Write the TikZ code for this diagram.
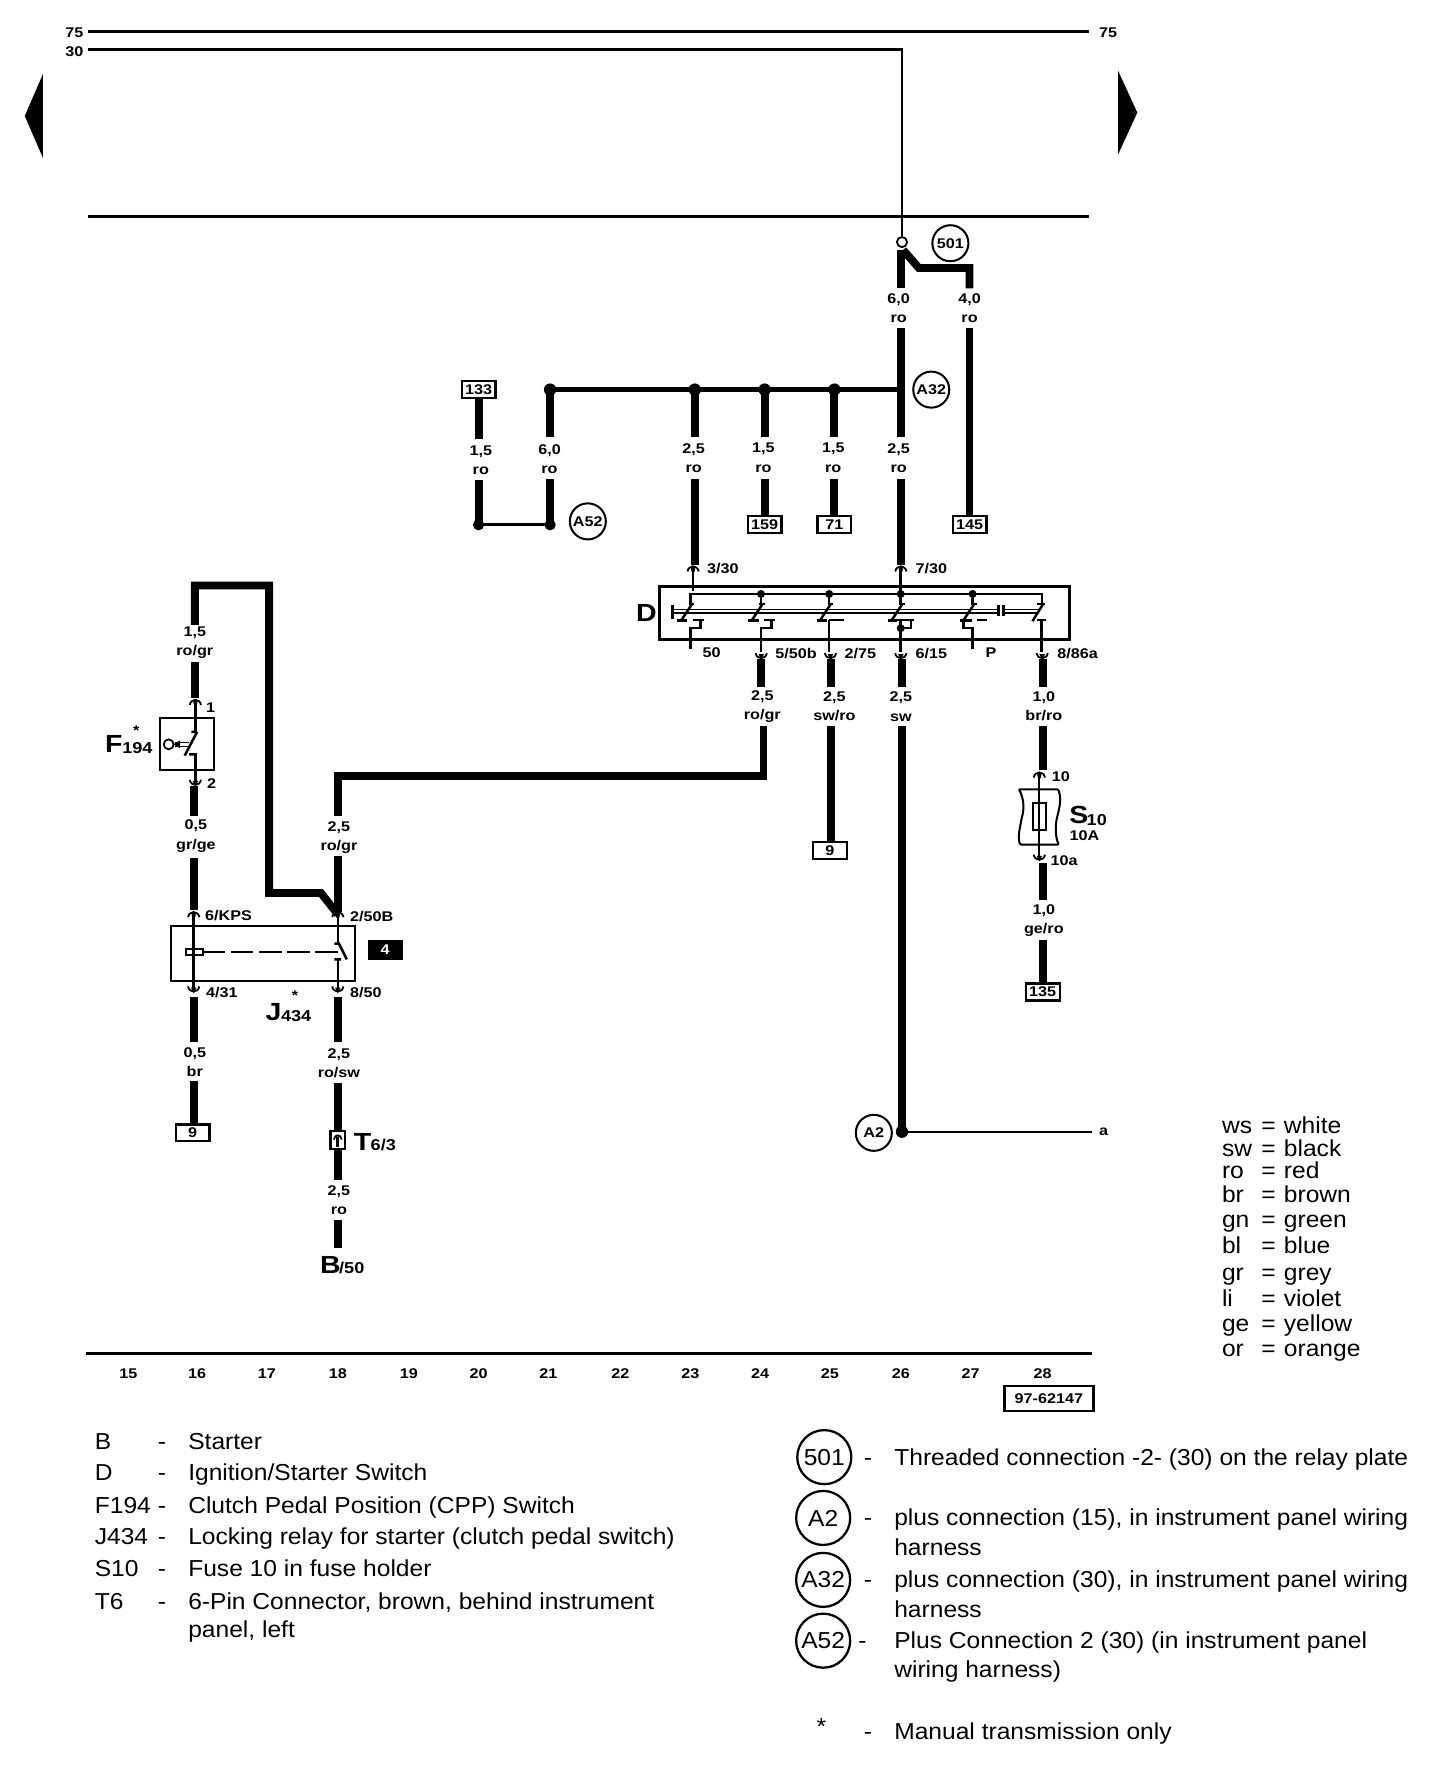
\documentclass[tikz,border=0pt]{standalone}
\usepackage{fontspec}
\setmainfont{Liberation Sans}
\newfontfamily\labfam{Liberation Sans}[FakeStretch=1.15]
\newfontfamily\legfam{Liberation Sans}[FakeStretch=1.065]
\newcommand{\C}[3]{\coordinate (#1) at (#2,#3);}
\newcommand{\wl}[5]{\node[lab] (#1) at (#2,#3) {#4\\#5};}
\tikzset{
 x=1pt,y=-1pt,
 heavy/.style={line width=7pt},
 midw/.style={line width=3pt},
 thinw/.style={line width=2.2pt},
 fine/.style={line width=1.6pt},
 lab/.style={inner sep=0pt,align=center,font=\labfam\bfseries\fontsize{12.5}{17}\selectfont},
 big/.style={inner sep=0pt,font=\labfam\bfseries\fontsize{22}{22}\selectfont},
 sub/.style={inner sep=0pt,font=\labfam\bfseries\fontsize{14}{14}\selectfont},
 tag/.style={draw,line width=2pt,inner sep=0pt,minimum height=15pt,minimum width=30pt,lab},
 ring/.style={draw,circle,line width=1.8pt,minimum size=32pt,inner sep=0pt,lab},
 bigring/.style={draw,circle,line width=2pt,minimum size=48pt,inner sep=0pt,font=\legfam\fontsize{20.5}{20}\selectfont},
 leg/.style={anchor=base west,inner sep=0pt,font=\legfam\fontsize{20.5}{26}\selectfont},
 jdot/.style={fill,circle,inner sep=0pt,minimum size=11pt},
 pintop/.pic={\draw[fine] (-5,2) .. controls (-4,-4) and (4,-4) .. (5,2); \fill (0,0) ellipse (1.8 and 3.4);},
 pinbot/.pic={\draw[fine] (-5,-2) .. controls (-4,4) and (4,4) .. (5,-2); \fill (-2.4,-1) -- (2.4,-1) -- (0,4) -- cycle;},
}
\begin{document}
\begin{tikzpicture}
\useasboundingbox[fill=white] (0,0) rectangle (1293,1568.3);

% top rails
\C{r75a}{78}{28}\C{r75b}{967}{28}\C{r30a}{78}{44}\C{r30b}{801}{44}\C{r0a}{78}{192}\C{r0b}{967}{192}
\draw[midw] (r75a) -- (r75b);
\draw[midw] (r0a) -- (r0b);
\draw[midw] (r30a) -- (r30b);
\node[lab] (t75l) at (66,29) {75};
\node[lab] (t30l) at (66,46) {30};
\node[lab] (t75r) at (984,29) {75};
\fill (38,66) -- (22,103) -- (38,140) -- cycle;
\fill (993,63) -- (1010,100) -- (993,137) -- cycle;

% 501
\node[draw,circle,fill=white,line width=1.6pt,inner sep=0pt,minimum size=9pt] (n501) at (801,215) {};
\draw[thinw] (r30b) ++(0,-1.5) -- (n501);
\node[ring] (c501) at (844,216) {501};
\C{a1}{800}{222}\C{a2}{800}{256}\C{a3}{802}{222}\C{a4}{816}{238}\C{a5}{861}{238}\C{a6}{861}{256}
\draw[heavy] (a1) -- (a2);
\draw[heavy,line join=miter] (a3) -- (a4) -- (a5) -- (a6);
\wl{l60}{798}{273.5}{6,0}{ro}
\wl{l40}{861}{273.5}{4,0}{ro}
\C{b1}{800}{291}\C{b2}{800}{388}\C{b3}{800}{425}\C{b4}{800}{502}
\draw[heavy] (b1) -- (b2);
\draw[heavy] (b3) -- (b4);
\wl{lb}{798}{406.5}{2,5}{ro}
\node[tag] (t145) at (861,466) {145};
\C{c1}{861}{291}
\draw[heavy] (c1) -- (t145.north);

% A32 bus
\node[ring] (cA32) at (827,346) {A32};
\C{bus0}{800}{346}
\node[jdot] (d1) at (488.5,346) {};
\node[jdot] (d2) at (617,346) {};
\node[jdot] (d3) at (679,346) {};
\node[jdot] (d4) at (741,346) {};
\draw[line width=4.5pt] (d1.center) -- (bus0);

\C{e1}{488.5}{388}\C{e2}{488.5}{425}
\draw[heavy] (d1.center) -- (e1);
\wl{l6}{488}{407.5}{6,0}{ro}
\node[jdot,minimum size=10pt] (d5) at (488.5,466) {};
\draw[heavy] (e2) -- (d5.center);
\node[jdot,minimum size=10pt] (d6) at (425,466) {};
\draw[line width=3pt] (d6.center) -- (d5.center);
\C{e3}{425}{426}\C{e4}{425}{390}
\draw[heavy] (d6.center) -- (e3);
\wl{l15}{427}{408.5}{1,5}{ro}
\node[tag] (t133) at (425,346) {133};
\draw[heavy] (e4) -- (t133.south);
\node[ring] (cA52) at (522,463) {A52};

\C{f1}{617}{388}\C{f2}{617}{425}\C{f3}{617}{502}
\draw[heavy] (d2.center) -- (f1);
\draw[heavy] (f2) -- (f3);
\wl{lf}{616}{406.5}{2,5}{ro}
\C{g1}{679}{388}\C{g2}{679}{425}
\draw[heavy] (d3.center) -- (g1);
\wl{lg}{678}{406.5}{1,5}{ro}
\node[tag] (t159) at (679,466) {159};
\draw[heavy] (g2) -- (t159.north);
\C{h1}{741}{388}\C{h2}{741}{425}
\draw[heavy] (d4.center) -- (h1);
\wl{lh}{740}{406.5}{1,5}{ro}
\node[tag] (t71) at (741,466) {71};
\draw[heavy] (h2) -- (t71.north);

% D switch
\node[draw,line width=2.6pt,minimum width=364pt,minimum height=47pt,inner sep=0pt] (boxD) at (767.5,544.5) {};
\node[big] (nD) at (574,544) {D};
\begin{scope}[shift={(549.6,478.7)},x=.2955pt,y=-.2955pt]
 \begin{scope}[line width=2.2pt]
 \draw (222,95) -- (222,155);
 \draw (847,95) -- (847,165);
 \draw (215,195) -- (215,165) -- (1272,165) -- (1272,195);
 \foreach \p in {427,632,847,1063} {
   \fill (\p,165) circle (12);
   \draw (\p,165) -- (\p,195);
 }
 \foreach \p in {215,427,632,847,1063} {
   \draw (\p-5,195) -- (\p+12,195);
   \draw (\p+5,195) -- (\p-28,245);
 }
 \draw (1258,195) -- (1280,195);
 \draw (1275,195) -- (1243,247);
 \end{scope}
 \begin{scope}[line width=1.4pt]
 \draw (160,212) -- (1140,212);
 \draw (160,223) -- (1140,223);
 \draw (1160,212) -- (1262,212);
 \draw (1160,223) -- (1255,223);
 \end{scope}
 \begin{scope}[line width=2.2pt]
 \draw[line width=2.8pt] (160,198) -- (160,240);
 \draw[line width=2.8pt] (1140,198) -- (1140,230);
 \draw[line width=2.8pt] (1157,198) -- (1157,230);
 \draw (175,245) -- (205,245) (222,243) -- (255,243);
 \draw (245,243) -- (245,268) -- (215,268) -- (215,330);
 \draw (388,245) -- (420,245) (435,243) -- (468,243);
 \draw (458,243) -- (458,268) -- (427,268) -- (427,340);
 \draw (595,245) -- (625,245) (632,243) -- (675,243) (632,243) -- (632,340);
 \draw (808,245) -- (835,245) (835,243) -- (888,243);
 \draw (847,243) -- (847,340) (878,243) -- (878,268) -- (847,268);
 \fill (847,268) circle (12);
 \draw (1025,245) -- (1060,245) (1075,243) -- (1105,243);
 \draw (1035,245) -- (1035,268) -- (1063,268) -- (1063,330);
 \draw (1258,243) -- (1285,243) (1270,243) -- (1270,340);
 \end{scope}
\end{scope}
\pic at (615.5,505.5) {pintop};
\pic at (800,505.5) {pintop};
\pic at (676,582) {pinbot};
\pic at (737.5,582) {pinbot};
\pic at (800,582) {pinbot};
\pic at (925.5,582) {pinbot};
\node[lab] (p330) at (642,505) {3/30};
\node[lab] (p730) at (827,505) {7/30};
\node[lab] (p50) at (632,580) {50};
\node[lab] (p550) at (707,580) {5/50b};
\node[lab] (p275) at (764,580) {2/75};
\node[lab] (p615) at (827,580) {6/15};
\node[lab] (pP) at (880,580) {P};
\node[lab] (p886) at (957,580) {8/86a};

% below D
\C{i1}{676}{585}\C{i2}{676}{610}\C{i3}{678}{645}\C{i4}{678}{689}\C{i5}{300}{689}\C{i6}{300}{725}
\draw[heavy] (i1) -- (i2);
\wl{li}{677}{627.5}{2,5}{ro/gr}
\draw[heavy,line join=miter] (i3) -- (i4) -- (i5) -- (i6);
\C{j1}{738}{585}\C{j2}{738}{610}\C{j3}{738}{645}
\draw[heavy] (j1) -- (j2);
\wl{lj}{741}{627.5}{2,5}{sw/ro}
\node[tag] (t9a) at (737,755) {9};
\draw[heavy] (j3) -- (t9a.north -| j3);
\C{k1}{801}{585}\C{k2}{801}{610}\C{k3}{801}{645}
\draw[heavy] (k1) -- (k2);
\wl{lk}{800}{627.5}{2,5}{sw}
\node[jdot] (dA2) at (801,1005) {};
\draw[heavy] (k3) -- (dA2.center);
\node[lab] (na) at (980,1005) {a};
\C{aend}{970}{1005}
\draw[line width=1.6pt] (dA2.center) -- (aend);
\node[ring] (cA2) at (776,1006) {A2};
\C{m1}{926}{585}\C{m2}{926}{610}\C{m3}{926}{645}\C{m4}{926}{684}
\draw[heavy] (m1) -- (m2);
\wl{lm}{927}{627.5}{1,0}{br/ro}
\draw[heavy] (m3) -- (m4);
% fuse
\begin{scope}[shift={(868.8,638.3)},x=.2955pt,y=-.2955pt]
 \draw[line width=1.8pt,rounded corners=1pt] (122,212) -- (240,212) .. controls (255,250) and (235,290) .. (233,320) .. controls (232,345) and (235,365) .. (242,378) -- (125,378) .. controls (118,350) and (125,330) .. (130,300) .. controls (140,265) and (135,235) .. (122,212);
 \draw[line width=1.8pt] (165,252) rectangle (203,335);
 \draw[line width=1.8pt] (183,165) -- (183,420);
\end{scope}
\pic at (923,688.5) {pintop};
\pic at (923,761) {pinbot};
\node[lab] (p10) at (942,690) {10};
\node[lab] (p10a) at (945,764) {10a};
\node[big,anchor=center] (nS) at (958,724) {S};
\node[sub] (nS10) at (974,728) {10};
\node[lab] (n10A) at (963,742) {10A};
\C{m5}{926}{766}\C{m6}{926}{799}\C{m7}{926}{835}
\draw[heavy] (m5) -- (m6);
\wl{lm2}{927}{817.5}{1,0}{ge/ro}
\node[tag] (t135) at (926,881) {135};
\draw[heavy] (m7) -- (t135.north);

% left: F194
\C{n1}{173}{555}\C{n2}{173}{520}\C{n3}{239}{520}\C{n4}{239}{793}\C{n5}{285}{793}\C{n6}{300}{812}
\draw[heavy,line join=miter] (n1) -- (n2) -- (n3) -- (n4) -- (n5) -- (n6);
\wl{ln}{173}{571}{1,5}{ro/gr}
\C{n7}{173}{588}\C{n8}{173}{620}
\draw[heavy] (n7) -- (n8);
\node[draw,line width=1.8pt,minimum width=48pt,minimum height=47pt,inner sep=0pt] (boxF) at (165.8,660.7) {};
\pic at (173.5,624) {pintop};
\pic at (173.5,694.5) {pinbot};
\C{n9}{173.5}{650}\C{n10}{173.5}{670}\C{n11}{173.5}{695}
\draw[thinw] (173.5,624) -- (n9);
\draw[thinw] (n10) -- (n11);
\draw[thinw] (170,650) -- (175,650) (175,650) -- (164,671) (168,670) -- (175,670);
\draw[line width=1.6pt] (149.8,661) circle (4.4);
\draw[line width=1.4pt] (155,659.5) -- (168,659.5) (155,663) -- (168,663);
\fill (154,661) -- (160,657.5) -- (160,664.5) -- cycle;
\node[big] (nF) at (101,661) {F};
\node[sub] (nF2) at (122,664.5) {194};
\node[lab] (sF) at (121,649) {*};
\node[lab] (p1) at (187,628) {1};
\node[lab] (p2) at (188,696) {2};
\C{o1}{172}{698}\C{o2}{172}{725}\C{o3}{172}{762}\C{o4}{172}{808}
\draw[heavy] (o1) -- (o2);
\wl{lo}{174}{742.5}{0,5}{gr/ge}
\draw[heavy] (o3) -- (o4);
\wl{lp}{301}{743.5}{2,5}{ro/gr}
\C{q1}{300}{760}\C{q2}{300}{810}
\draw[heavy] (q1) -- (q2);
% J434
\node[draw,line width=1.8pt,minimum width=164pt,minimum height=49pt,inner sep=0pt] (boxJ) at (233.6,846.4) {};
\pic at (172,812.5) {pintop};
\pic at (300,812.5) {pintop};
\pic at (172,878) {pinbot};
\pic at (300,878) {pinbot};
\draw[thinw] (172,812) -- (172,880);
\draw[line width=1.8pt] (165,843) rectangle (180,848);
\draw[line width=1.8pt,dash pattern=on 20pt off 5pt] (180,845.3) -- (300,845.3);
\draw[thinw] (300,812) -- (300,838);
\draw[thinw] (297,838) -- (302,838) (301,838) -- (308,852) (297,852) -- (303,852);
\draw[thinw] (300,852) -- (300,880);
\node[fill,minimum width=31pt,minimum height=18pt,inner sep=0pt,lab] (n4b) at (342,843.5) {\textcolor{white}{4}};
\node[lab] (p6) at (203,813) {6/KPS};
\node[lab] (p2b) at (330,814) {2/50B};
\node[lab] (p431) at (197,881) {4/31};
\node[lab] (p850) at (325,881) {8/50};
\node[big] (nJ) at (243,899) {J};
\node[sub] (nJ2) at (263,902) {434};
\node[lab] (sJ) at (262,884) {*};
\C{s1}{172.5}{885}\C{s2}{172.5}{925}\C{s3}{172.5}{960}
\draw[heavy] (s1) -- (s2);
\wl{ls}{173}{943.5}{0,5}{br}
\node[tag] (t9b) at (171,1006) {9};
\draw[heavy] (s3) -- (t9b.north -| s3);
\C{u1}{300}{885}\C{u2}{300}{925}\C{u3}{300}{962}
\draw[heavy] (u1) -- (u2);
\wl{lu}{301}{944}{2,5}{ro/sw}
\node[draw,line width=1.8pt,minimum width=13pt,minimum height=16pt,inner sep=0pt] (cT) at (300,1012) {};
\draw[heavy] (u3) -- (cT.north);
\draw[line width=1.6pt] (296.5,1012) .. controls (297,1007) and (303,1007) .. (303.5,1012);
\fill (298.6,1010) rectangle (301.4,1019);
\node[big,anchor=west] (nT) at (314,1014) {T};
\node[sub,anchor=west] (nT2) at (329,1017) {6/3};
\C{v1}{300}{1048}\C{v2}{300}{1083}\C{v3}{300}{1108}
\draw[heavy] (cT.south) -- (v1);
\wl{lv}{301}{1065.5}{2,5}{ro}
\draw[heavy] (v2) -- (v3);
\node[big,anchor=west] (nB) at (284,1123) {B};
\node[sub,anchor=west] (nB2) at (301,1126) {/50};

% grid rail
\C{w1}{76}{1202}\C{w2}{970}{1202}
\draw[line width=3pt] (w1) -- (w2);
\foreach \n/\xx in {15/114,16/175,17/237,18/300,19/363,20/425,21/487,22/551,23/613,24/675,25/737,26/800,27/862,28/926}
  \node[lab] (g\n) at (\xx,1220) {\n};
\node[draw,line width=2pt,minimum width=79pt,minimum height=22pt,inner sep=0pt,lab] (code) at (931.5,1242) {97-62147};

% colour legend
\foreach \a/\b/\yy in {ws/white/1007,sw/black/1027,ro/red/1047,br/brown/1068,gn/green/1090,bl/blue/1113,gr/grey/1137,li/violet/1160,ge/yellow/1182,or/orange/1205} {
  \node[leg] (ca\a) at (1085,\yy) {\a};
  \node[leg] (ce\a) at (1120,\yy) {=};
  \node[leg] (cb\a) at (1140,\yy) {\b};
}

% component legend
\foreach \k/\t/\yy in {B/Starter/1287,D/Ignition\slash Starter Switch/1315,F194/Clutch Pedal Position (CPP) Switch/1344,J434/Locking relay for starter (clutch pedal switch)/1372,S10/Fuse 10 in fuse holder/1400} {
  \node[leg] (k\k) at (84,\yy) {\k};
  \node[leg] (m\k) at (140,\yy) {-};
  \node[leg] (x\k) at (167,\yy) {\t};
}
\node[leg] (kT6) at (84,1429) {T6};
\node[leg] (mT6) at (140,1429) {-};
\node[leg] (xT6) at (167,1429) {6-Pin Connector, brown, behind instrument};
\node[leg] (xT6b) at (167,1454) {panel, left};

% splice legend
\node[bigring] (r501) at (732,1294) {501};
\node[bigring] (rA2) at (731,1348) {A2};
\node[bigring] (rA32) at (731,1403) {A32};
\node[bigring] (rA52) at (731,1457) {A52};
\node[leg] (d501) at (767,1301) {-};
\node[leg] (dA2l) at (767,1355) {-};
\node[leg] (dA32) at (767,1410) {-};
\node[leg] (dA52) at (762,1464) {-};
\node[leg] (dst) at (767,1545) {-};
\node[leg] (sst) at (725,1540) {*};
\node[leg] (s501) at (794,1301) {Threaded connection -2- (30) on the relay plate};
\node[leg] (sA2) at (794,1355) {plus connection (15), in instrument panel wiring};
\node[leg] (sA2b) at (794,1381) {harness};
\node[leg] (sA32) at (794,1410) {plus connection (30), in instrument panel wiring};
\node[leg] (sA32b) at (794,1436) {harness};
\node[leg] (sA52) at (794,1464) {Plus Connection 2 (30) (in instrument panel};
\node[leg] (sA52b) at (794,1490) {wiring harness)};
\node[leg] (sM) at (794,1545) {Manual transmission only};
\end{tikzpicture}
\end{document}
